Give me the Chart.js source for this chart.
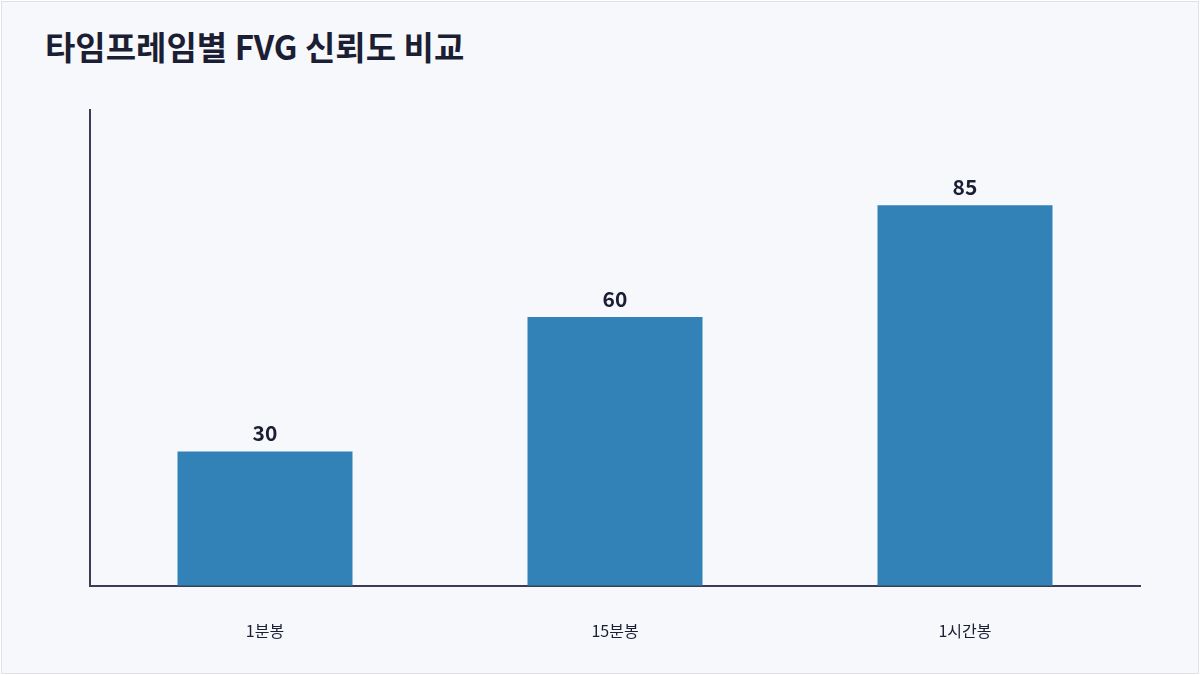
<!DOCTYPE html>
<html><head><meta charset="utf-8">
<script src="https://cdn.jsdelivr.net/npm/chart.js@4/dist/chart.umd.min.js"></script>
<style>
html,body{margin:0;padding:0;background:#fff;}
#wrap{position:absolute;left:1px;top:1px;width:1196px;height:671px;background:#f7f8fc;border:1px solid #dde1ea;overflow:hidden;}
h1{position:absolute;left:43px;top:20px;margin:0;font:700 33px "Noto Sans CJK KR","Noto Sans",sans-serif;color:#1c1f33;}
#c{position:absolute;left:0;top:0;}
</style></head><body>
<div id="wrap"><h1>타임프레임별 FVG 신뢰도 비교</h1><canvas id="c" width="1196" height="675"></canvas></div>
<script>
const categories=["1분봉","15분봉","1시간봉"];
const values=[30,60,85];
const valueLabels={id:'vl',afterDatasetsDraw(ch){const ctx=ch.ctx;const m=ch.getDatasetMeta(0);ctx.save();ctx.font='700 21px "Noto Sans CJK KR","Noto Sans",sans-serif';ctx.fillStyle='#1c1f33';ctx.textAlign='center';ctx.textBaseline='bottom';m.data.forEach((b,i)=>ctx.fillText(String(values[i]),b.x,b.y-8));ctx.restore();}};
new Chart(document.getElementById('c'),{type:'bar',
data:{labels:categories,datasets:[{data:values,backgroundColor:'#3282b8',barPercentage:0.5,categoryPercentage:1}]},
options:{responsive:false,animation:false,layout:{padding:{left:88,right:58,top:108,bottom:0}},
plugins:{legend:{display:false},tooltip:{enabled:false}},
scales:{x:{grid:{display:false,drawTicks:false},border:{color:'#3a3d55',width:2},ticks:{padding:36,color:'#1c1f33',font:{size:16,family:'"Noto Sans CJK KR","Noto Sans",sans-serif'}}},
y:{min:0,max:106.25,grid:{display:false,drawTicks:false},border:{color:'#3a3d55',width:2},ticks:{display:false}}}},
plugins:[valueLabels]});
</script></body></html>
